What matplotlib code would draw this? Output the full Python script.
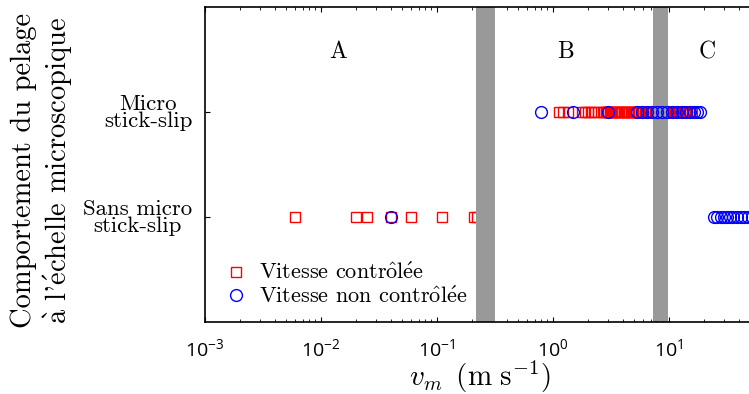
import numpy as np
import matplotlib
matplotlib.use('Agg')
import matplotlib.pyplot as plt

# Vitesse controlee (carres rouges)
v_ctrl_sans = [0.0060, 0.0201, 0.0251, 0.0404, 0.060, 0.111, 0.209, 0.222]
v_ctrl_micro = [1.13, 1.23, 1.36, 1.79, 1.90, 2.02, 2.14, 2.27, 2.46,
                2.70, 2.78, 2.86, 2.93, 3.02, 3.10, 3.18, 3.27, 3.36, 3.46,
                3.55, 3.65, 3.76, 3.86, 3.97, 4.08, 4.20, 4.32, 4.44, 4.57,
                4.70, 4.83, 4.97, 5.11, 5.25, 5.40, 5.56, 5.72, 5.88, 6.05,
                6.22, 6.40, 6.58, 6.77, 6.96, 7.16, 7.36, 7.57, 7.79, 8.01,
                8.24, 8.47, 8.71, 8.96, 9.22, 9.48, 9.75, 10.0, 10.3, 10.6,
                10.9, 11.2, 11.5, 11.9, 12.2, 12.6, 12.9, 13.3, 13.7, 14.1,
                14.5, 14.9, 15.3, 15.8]
# Vitesse non controlee (cercles bleus)
v_libre_sans = [0.0404, 24.5, 26, 28, 30, 32, 34, 36, 39, 42, 45, 48, 52]
v_libre_micro = [0.79, 1.50, 3.0, 5.33, 5.89, 6.50, 7.18, 7.93, 8.76, 9.67,
                 10.7, 11.8, 13.0, 14.1, 15.3, 16.5, 17.5, 18.6]

bandes = [(0.22, 0.32), (7.3, 9.9)]
regions = ['A', 'B', 'C']
x_regions = [0.0141, 1.30, 21.4]
niveaux = ['Sans micro\nstick-slip', 'Micro\nstick-slip']
xticks = [1e-3, 1e-2, 1e-1, 1e0, 1e1]

# accents tapes en mathtext : cmr10 n'a pas les lettres accentuees
o_hat = r'$\hat{\mathrm{o}}$'
e_aigu = r'$\acute{\mathrm{e}}$'
a_grave = r'$\grave{\mathrm{a}}$'
lab_ctrl = 'Vitesse contr' + o_hat + 'l' + e_aigu + 'e'
lab_libre = 'Vitesse non contr' + o_hat + 'l' + e_aigu + 'e'
lab_y = 'Comportement du pelage\n' + a_grave + " l'" + e_aigu + 'chelle microscopique'

plt.rcParams['font.family'] = ['cmr10', 'DejaVu Serif']
plt.rcParams['mathtext.fontset'] = 'cm'
plt.rcParams['axes.formatter.use_mathtext'] = True

fig = plt.figure(figsize=(7.49, 3.94), dpi=100)
ax = fig.add_axes([0.2733, 0.1827, 0.8053, 0.7995])

for a, b in bandes:
    ax.axvspan(a, b, color='#999999', lw=0, zorder=2)

ax.plot(v_ctrl_sans, [1] * len(v_ctrl_sans), 's', mfc='none', mec='r',
        ms=7, mew=1.0, zorder=1, label=lab_ctrl)
ax.plot(v_ctrl_micro, [2] * len(v_ctrl_micro), 's', mfc='none', mec='r',
        ms=7, mew=1.0, zorder=1)
ax.plot(v_libre_sans, [1] * len(v_libre_sans), 'o', mfc='none', mec='b',
        ms=8.5, mew=1.0, zorder=3, label=lab_libre)
ax.plot(v_libre_micro, [2] * len(v_libre_micro), 'o', mfc='none', mec='b',
        ms=8.5, mew=1.0, zorder=3)

for lab, xr in zip(regions, x_regions):
    ax.text(xr, 2.57, lab, ha='center', va='center', fontsize=17)

ax.set_xscale('log')
ax.set_xlim(1e-3, 10 ** 2.2)
ax.set_ylim(0, 3)
ax.set_xticks(xticks)
ax.set_yticks([1, 2])
ax.set_yticklabels(niveaux, multialignment='center', fontsize=16.5,
                   linespacing=0.85)
ax.tick_params(axis='x', which='both', direction='in', top=True, labelsize=14,
               labelfontfamily='Open Sans', pad=12)
ax.tick_params(axis='y', direction='in', pad=9)
for s in ax.spines.values():
    s.set_linewidth(1.2)

ax.set_xlabel(r'$v_m\ \,(\mathrm{m\ s}^{-1})$', fontsize=21)
ax.xaxis.set_label_coords(0.456, -0.116)
ax.set_ylabel(lab_y, fontsize=20.5)
ax.yaxis.set_label_coords(-0.215, 0.48)

ax.legend(loc='center left', bbox_to_anchor=(0.034, 0.119), frameon=False,
          fontsize=16, borderpad=0, handlelength=1, handletextpad=0.5,
          labelspacing=0.1, borderaxespad=0)

fig.savefig('out.png', dpi=100)
